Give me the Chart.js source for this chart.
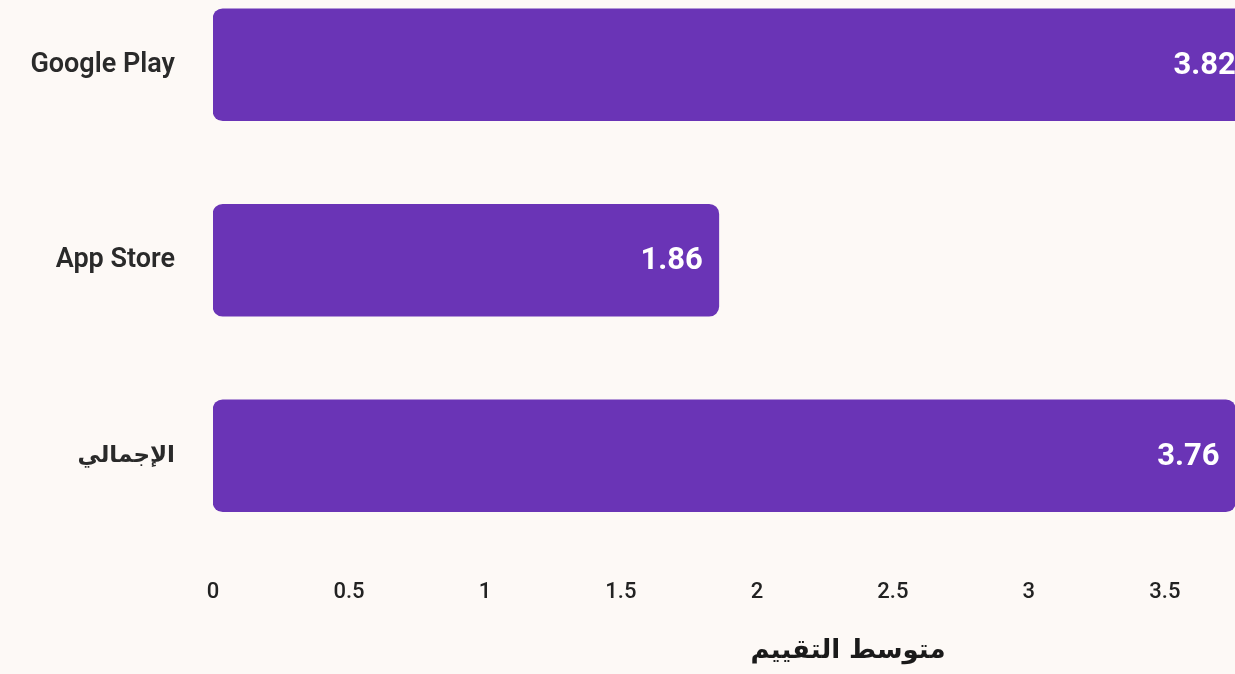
<!DOCTYPE html>
<html>
<head>
<meta charset="utf-8">
<script src="https://cdn.jsdelivr.net/npm/chart.js@4.4.1/dist/chart.umd.min.js"></script>
<style>
html, body { margin:0; padding:0; overflow:hidden; background:#fdf9f6; width:1235px; height:674px; }
#wrap { position:absolute; left:0; top:-33px; width:1483px; height:700px; }
</style>
</head>
<body>
<div id="wrap"><canvas id="chart"></canvas></div>
<script>
// average rating per store
const platforms = ["Google Play", "App Store", "الإجمالي"];
const avgRating = [3.82, 1.86, 3.76];
const axisTitle = "متوسط التقييم";
const xMax = 4.67;   // the source image is cropped on the right
const xStep = 0.5;

const PURPLE = "#6a34b6";
const FONT = "Roboto, 'DejaVu Sans', sans-serif";

// value text at the end of each bar
const valueLabels = {
  id: "valueLabels",
  afterDatasetsDraw(chart) {
    const ctx = chart.ctx;
    const meta = chart.getDatasetMeta(0);
    ctx.save();
    ctx.font = "700 31px " + FONT;
    ctx.fillStyle = "#ffffff";
    ctx.textAlign = "right";
    ctx.textBaseline = "middle";
    meta.data.forEach((bar, i) => ctx.fillText(avgRating[i].toFixed(2), bar.x - 16, bar.y + 1));
    ctx.restore();
  }
};

// arabic label is wider in the fallback font, so use a smaller size for it
const yTickFont = c => /[\u0600-\u06ff]/.test(platforms[c.index] || "")
  ? { family: "'DejaVu Sans', sans-serif", size: 23, weight: "700" }
  : { family: FONT, size: 27, weight: "600" };

new Chart(document.getElementById("chart"), {
  type: "bar",
  data: {
    labels: platforms,
    datasets: [{
      data: avgRating,
      backgroundColor: PURPLE,
      borderRadius: 10,
      borderSkipped: false,
      barThickness: 112,
    }]
  },
  options: {
    indexAxis: "y",
    responsive: true,
    maintainAspectRatio: false,
    animation: false,
    layout: { padding: 0 },
    plugins: { legend: { display: false }, tooltip: { enabled: false } },
    scales: {
      x: {
        min: 0, max: xMax,
        border: { display: false },
        grid: { display: false, drawTicks: false },
        ticks: { stepSize: xStep, padding: 26, color: "#222",
                 font: { family: FONT, size: 22, weight: "500" },
                 callback: v => String(Math.round(v * 100) / 100) },
        title: { display: true, text: axisTitle, color: "#1a1a1a", padding: { top: 27, bottom: 0 },
                 font: { family: "'DejaVu Sans', sans-serif", size: 26, weight: "700" } },
        afterFit(s) { s.height = 113.5; s.paddingLeft = 0; s.paddingRight = 0; },
      },
      y: {
        border: { display: false },
        grid: { display: false, drawTicks: false },
        ticks: { padding: 38, color: "#2a2a2a", font: yTickFont },
        afterFit(s) { s.width = 213; s.paddingTop = 0; s.paddingBottom = 0; },
      }
    }
  },
  plugins: [valueLabels]
});
</script>
</body>
</html>
